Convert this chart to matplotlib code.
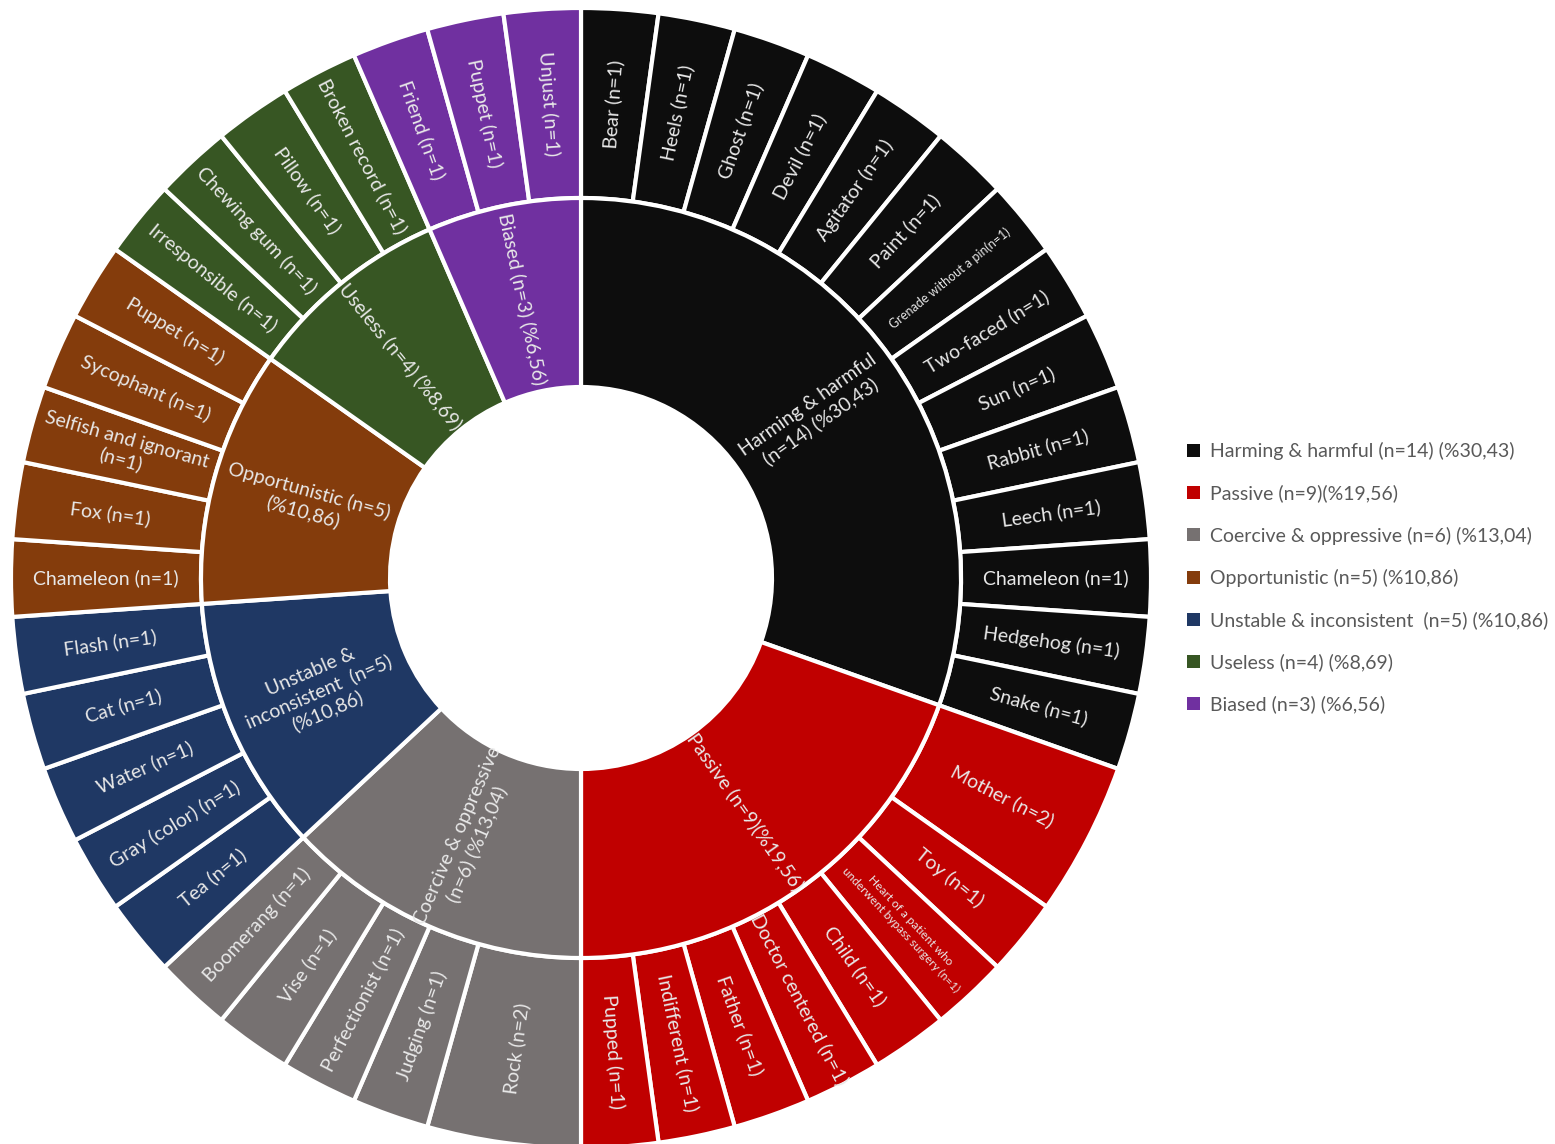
import numpy as np
import matplotlib.pyplot as plt
from matplotlib.patches import Patch

plt.rcParams['font.family'] = ['Lato', 'DejaVu Sans']

# inner ring (categories)
groups = ['Harming & harmful\n(n=14) (%30,43)', 'Passive (n=9)(%19,56)',
          'Coercive & oppressive\n(n=6) (%13,04)', 'Unstable &\ninconsistent  (n=5)\n(%10,86)',
          'Opportunistic (n=5)\n(%10,86)', 'Useless (n=4) (%8,69)', 'Biased (n=3) (%6,56)']
group_n = [14, 9, 6, 5, 5, 4, 3]
group_colors = ['#0d0d0d', '#c00000', '#767171', '#1f3864', '#843c0c', '#375623', '#7030a0']

legend_labels = ['Harming & harmful (n=14) (%30,43)', 'Passive (n=9)(%19,56)',
                 'Coercive & oppressive (n=6) (%13,04)', 'Opportunistic (n=5) (%10,86)',
                 'Unstable & inconsistent  (n=5) (%10,86)', 'Useless (n=4) (%8,69)',
                 'Biased (n=3) (%6,56)']
legend_colors = ['#0d0d0d', '#c00000', '#767171', '#843c0c', '#1f3864', '#375623', '#7030a0']

# outer ring (metaphors), clockwise from top
harming = ['Bear (n=1)', 'Heels (n=1)', 'Ghost (n=1)', 'Devil (n=1)', 'Agitator (n=1)',
           'Paint (n=1)', 'Grenade without a pin(n=1)', 'Two-faced (n=1)', 'Sun (n=1)',
           'Rabbit (n=1)', 'Leech (n=1)', 'Chameleon (n=1)', 'Hedgehog (n=1)', 'Snake (n=1)']
harming_n = [1] * 14
passive = ['Mother (n=2)', 'Toy (n=1)', 'Heart of a patient who\nunderwent bypass surgery (n=1)',
           'Child (n=1)', 'Doctor centered (n=1)', 'Father (n=1)', 'Indifferent (n=1)',
           'Pupped (n=1)']
passive_n = [2, 1, 1, 1, 1, 1, 1, 1]
coercive = ['Rock (n=2)', 'Judging (n=1)', 'Perfectionist (n=1)', 'Vise (n=1)', 'Boomerang (n=1)']
coercive_n = [2, 1, 1, 1, 1]
unstable = ['Tea (n=1)', 'Gray (color) (n=1)', 'Water (n=1)', 'Cat (n=1)', 'Flash (n=1)']
unstable_n = [1, 1, 1, 1, 1]
opportunistic = ['Chameleon (n=1)', 'Fox (n=1)', 'Selfish and ignorant\n(n=1)',
                 'Sycophant (n=1)', 'Puppet (n=1)']
opportunistic_n = [1, 1, 1, 1, 1]
useless = ['Irresponsible (n=1)', 'Chewing gum (n=1)', 'Pillow (n=1)', 'Broken record (n=1)']
useless_n = [1, 1, 1, 1]
biased = ['Friend (n=1)', 'Puppet (n=1)', 'Unjust (n=1)']
biased_n = [1, 1, 1]

outer_labels = harming + passive + coercive + unstable + opportunistic + useless + biased
outer_n = harming_n + passive_n + coercive_n + unstable_n + opportunistic_n + useless_n + biased_n
outer_colors = []
for c, k in zip(group_colors, [len(harming), len(passive), len(coercive), len(unstable),
                               len(opportunistic), len(useless), len(biased)]):
    outer_colors += [c] * k

small = {'Grenade without a pin(n=1)': 9,
         'Heart of a patient who\nunderwent bypass surgery (n=1)': 8.5}

fig = plt.figure(figsize=(15.55, 11.44), dpi=100)
R = 570
ax = fig.add_axes([(581 - R) / 1555, (1144 - 578 - R) / 1144, 2 * R / 1555, 2 * R / 1144])

hole = 191 / R
mid = 380 / R
ax.pie(outer_n, radius=1, colors=outer_colors, startangle=90, counterclock=False,
       wedgeprops=dict(width=1 - mid, edgecolor='white', linewidth=3))
ax.pie(group_n, radius=mid, colors=group_colors, startangle=90, counterclock=False,
       wedgeprops=dict(width=mid - hole, edgecolor='white', linewidth=3))
ax.set_xlim(-1, 1)
ax.set_ylim(-1, 1)
ax.axis('off')


def put_labels(labels, vals, r, size):
    total = sum(vals)
    cum = np.cumsum([0] + list(vals))
    for i, lab in enumerate(labels):
        theta = 90 - (cum[i] + vals[i] / 2) / total * 360
        th = np.deg2rad(theta)
        rot = (theta + 180) % 360 - 180
        if rot > 90:
            rot -= 180
        elif rot < -90:
            rot += 180
        ax.text(r * np.cos(th), r * np.sin(th), lab, rotation=rot, rotation_mode='anchor',
                ha='center', va='center', color='#e8e8e8', multialignment='center',
                fontsize=small.get(lab, size), linespacing=1.25)


put_labels(outer_labels, outer_n, (380 + 570) / 2 / R, 14)
put_labels(groups, group_n, (191 + 380) / 2 / R, 14)

handles = [Patch(facecolor=c, edgecolor='none') for c in legend_colors]
fig.legend(handles, legend_labels, loc='upper left', bbox_to_anchor=(1187 / 1555, 1 - 442 / 1144),
           frameon=False, fontsize=14, labelcolor='#595959', handlelength=0.65, handleheight=0.65,
           handletextpad=0.55, labelspacing=1.25, borderaxespad=0, borderpad=0)

plt.savefig('out.png')
